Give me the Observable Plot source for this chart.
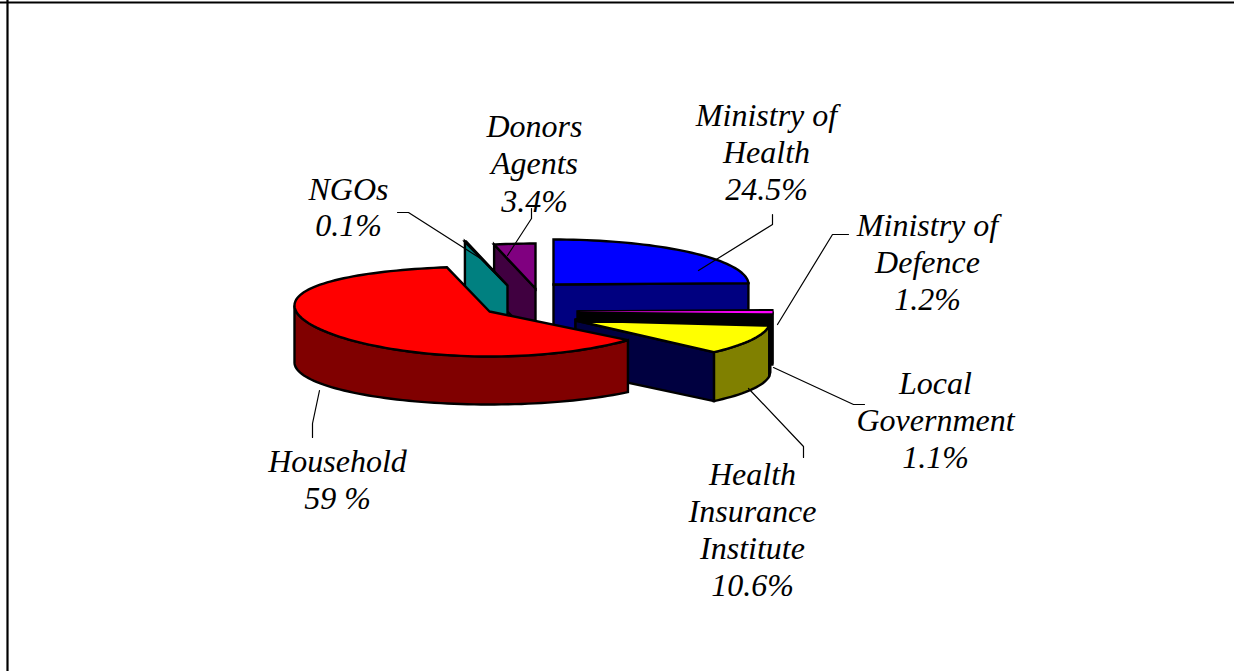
<!DOCTYPE html>
<html>
<head>
<meta charset="utf-8">
<style>html,body{margin:0;padding:0;background:#fff}svg{display:block}</style>
<script src="https://cdn.jsdelivr.net/npm/d3@7"></script>
<script src="https://cdn.jsdelivr.net/npm/@observablehq/plot@0.6"></script>
</head>
<body>
<script>
// ---- data ----
const categories = ["Ministry of Health","Ministry of Defence","Local Government","Health Insurance Institute","Household","NGOs","Donors Agents"];
const shares = [24.5, 1.2, 1.1, 10.6, 59, 0.1, 3.4];
const labelLines = [
  ["Ministry of","Health","24.5%"],
  ["Ministry of","Defence","1.2%"],
  ["Local","Government","1.1%"],
  ["Health","Insurance","Institute","10.6%"],
  ["Household","59 %"],
  ["NGOs","0.1%"],
  ["Donors","Agents","3.4%"]
];

// ---- style and layout ----
const W = 1234, H = 671;
const topColors  = ["#0000ff","#ff00ff","#000000","#ffff00","#ff0000","#008080","#800080"];
const rimColors  = ["#000080","#000000","#000000","#808000","#800000","#004040","#400040"];
const cutColors  = ["#000080","#000000","#808000","#000040","#800000","#008080","#400040"];
const apexes = [[553,284],[577,311],[575,319],[575,320],[489,311],[507,285],[535,288]];
const lifts  = [0,0,0,0,6,0,0];            // household's flank rises slightly in the perspective
const RX = 195, RY = 45, DROP = 51, RY_BOTTOM = 42;
const paintOrder = [6,5,0,1,2,3,4];
const labelCentres = [766,927,935,752,337,348,534];
const labelFirstBaselines = [125,235,393,484,471,199,136];
const labelSteps = [37,37,37,37.3,37,36,37.5];
const leaders = [
  [[772,214],[772,224],[698,270]],
  [[848,234],[832,234],[777,324]],
  [[864,404],[853,404],[773,367]],
  [[803,457],[803,446],[748,388]],
  [[312,437],[312,423],[319,390]],
  [[397,212],[408,212],[480,258]],
  [[531,208],[531,218],[507,255]]
];

// ---- geometry derived from the shares ----
const total = d3.sum(shares);
const cum = d3.cumsum(shares);
const rad = d => d * Math.PI / 180;
const angle = i => [ (i ? cum[i-1] : 0) / total * 360, cum[i] / total * 360 ];
const topPt = (i,t) => {
  const a = rad(t), [ax,ay] = apexes[i];
  return [ax + RX*Math.sin(a), ay - RY*Math.cos(a) - lifts[i]*Math.sin(a)**2];
};
const botPt = (i,t) => {
  const a = rad(t), [ax,ay] = apexes[i];
  return [ax + RX*Math.sin(a), ay + DROP - RY_BOTTOM*Math.cos(a)];
};
const arc = (a0,a1) => {
  const n = Math.max(2, Math.ceil(Math.abs(a1-a0)/2));
  return d3.range(n+1).map(k => a0 + (a1-a0)*k/n);
};
const polys = [];
let pid = 0;
const addPoly = (pts, fill) => { pid++; pts.forEach(p => polys.push({id:pid, x:p[0], y:p[1], fill})); };

for (const i of paintOrder) {
  const [a0,a1] = angle(i);
  const [ax,ay] = apexes[i];
  const apexB = [ax, ay + DROP];
  if (Math.cos(rad(a0-90)) < 0) addPoly([[ax,ay], topPt(i,a0), botPt(i,a0), apexB], cutColors[i]);
  const r0 = Math.max(a0,90), r1 = Math.min(a1,270);
  if (r1 > r0) {
    const as = arc(r0,r1);
    addPoly([...as.map(t=>topPt(i,t)), ...as.slice().reverse().map(t=>botPt(i,t))], rimColors[i]);
  }
  if (Math.cos(rad(a1+90)) < 0) addPoly([[ax,ay], topPt(i,a1), botPt(i,a1), apexB], cutColors[i]);
  addPoly([[ax,ay], ...arc(a0,a1).map(t=>topPt(i,t))], topColors[i]);
}

// the thin Defence top stays visible through its outline
const [d0,d1] = angle(1);
const sliver = [apexes[1], ...arc(d0+1.2,d1-0.4).map(t=>topPt(1,t))].map(p => ({x:p[0], y:p[1]}));

const leaderRows = leaders.flatMap((l,k) => l.map(p => ({k, x:p[0], y:p[1]})));
const textRows = labelLines.flatMap((lines,k) => lines.map((text,j) => ({
  text, x: labelCentres[k], y: labelFirstBaselines[k] + j*labelSteps[k]
})));

const chart = Plot.plot({
  width: W, height: H,
  margin: 0,
  x: {domain:[0,W], range:[0,W], axis:null},
  y: {domain:[0,H], range:[0,H], axis:null},
  marks: [
    Plot.line(polys, {x:"x", y:"y", z:"id", fill:"fill", stroke:"#000", strokeWidth:2.4, curve:"linear-closed", strokeLinejoin:"miter", strokeMiterlimit:3}),
    Plot.line(sliver, {x:"x", y:"y", fill:topColors[1], stroke:"none", curve:"linear-closed"}),
    Plot.line(leaderRows, {x:"x", y:"y", z:"k", stroke:"#000", strokeWidth:1.2}),
    Plot.text(textRows, {x:"x", y:"y", text:"text", textAnchor:"middle", lineAnchor:"bottom", fontFamily:"Liberation Serif", fontStyle:"italic", fontSize:32, fill:"#000"}),
    Plot.ruleX([7], {stroke:"#000", strokeWidth:2.2}),
    Plot.ruleY([2], {stroke:"#000", strokeWidth:2.2})
  ]
});
chart.style.background = "#fff";
document.body.appendChild(chart);
</script>
</body>
</html>
